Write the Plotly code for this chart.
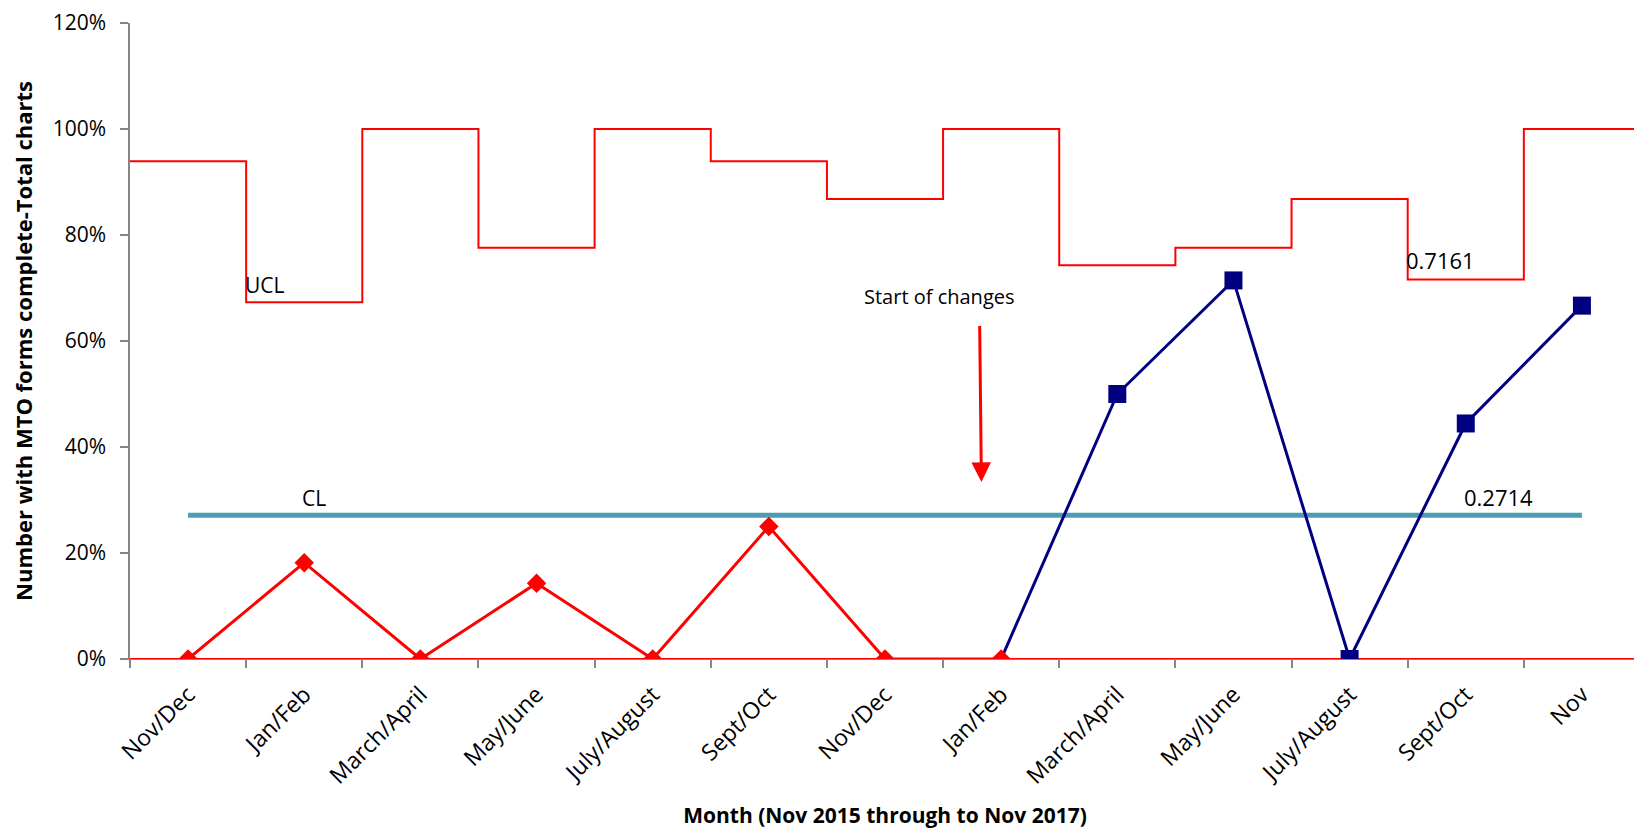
import plotly.graph_objects as go
import numpy as np

categories = ["Nov/Dec", "Jan/Feb", "March/April", "May/June", "July/August", "Sept/Oct",
              "Nov/Dec", "Jan/Feb", "March/April", "May/June", "July/August", "Sept/Oct", "Nov"]
before_idx = [0, 1, 2, 3, 4, 5, 6, 7]
before_vals = [0, 18.18, 0, 14.29, 0, 25.0, 0, 0]
after_idx = [7, 8, 9, 10, 11, 12]
after_vals = [0, 50.0, 71.43, 0, 44.44, 66.67]
ucl = [93.9, 67.3, 100, 77.6, 100, 93.9, 86.8, 100, 74.3, 77.6, 86.8, 71.61, 100]
lcl = [0] * 13
cl = 27.14
y_ticks = [0, 20, 40, 60, 80, 100, 120]

n = len(categories)
idx = np.arange(n)
edges = np.arange(n + 1) - 0.5

FONT = "Open Sans"
fig = go.Figure()

fig.add_trace(go.Scatter(x=edges, y=ucl + [ucl[-1]], mode="lines", line_shape="hv",
                         line=dict(color="#FF0000", width=2), hoverinfo="skip", showlegend=False))
fig.add_trace(go.Scatter(x=edges, y=lcl + [lcl[-1]], mode="lines", line_shape="hv",
                         line=dict(color="#FF0000", width=2), hoverinfo="skip", showlegend=False))
fig.add_trace(go.Scatter(x=idx, y=[cl] * n, mode="lines",
                         line=dict(color="#4A9DB5", width=5), showlegend=False))
fig.add_trace(go.Scatter(x=after_idx, y=after_vals, mode="lines+markers",
                         line=dict(color="#000080", width=3),
                         marker=dict(symbol="square", size=[0] + [18] * (len(after_idx) - 1),
                                     color="#000080", opacity=1, line=dict(width=0)),
                         showlegend=False))
fig.add_trace(go.Scatter(x=before_idx, y=before_vals, mode="lines+markers",
                         line=dict(color="#FF0000", width=3),
                         marker=dict(symbol="diamond", size=15, color="#FF0000",
                                     opacity=1, line=dict(width=0)),
                         showlegend=False))

txt = dict(family=FONT, size=21, color="#000000")
num = dict(family=FONT, size=22, color="#000000")
fig.add_annotation(x=0.66, y=70.6, text="UCL", showarrow=False, font=txt)
fig.add_annotation(x=1.08, y=30.4, text="CL", showarrow=False, font=txt)
fig.add_annotation(x=10.78, y=75.3, text="0.7161", showarrow=False, font=num)
fig.add_annotation(x=11.28, y=30.6, text="0.2714", showarrow=False, font=num)
fig.add_annotation(x=6.47, y=68.4, text="Start of changes", showarrow=False,
                   font=dict(family=FONT, size=20, color="#000000"))
fig.add_annotation(x=6.83, y=33.4, ax=6.815, ay=63.1, axref="x", ayref="y",
                   xref="x", yref="y", text="", showarrow=True,
                   arrowhead=2, arrowsize=1.3, arrowwidth=3, arrowcolor="#FF0000")

fig.update_layout(
    width=1634, height=824,
    margin=dict(l=122, r=2, t=15, b=173),
    paper_bgcolor="white", plot_bgcolor="white",
    font=dict(family=FONT, color="#000000"),
)
fig.update_xaxes(
    range=[-0.5, n - 0.5], tickmode="array", tickvals=idx, ticktext=categories,
    tickangle=-45, ticks="", tickfont=dict(family=FONT, size=23),
    ticklabelstandoff=12, automargin=False,
    showgrid=False, zeroline=False, showline=True, linecolor="#868686", linewidth=1,
    minor=dict(tick0=-0.5, dtick=1, ticks="outside", ticklen=8, tickcolor="#868686",
               tickwidth=1.5, showgrid=False),
    title=dict(text="<b>Month (Nov 2015 through to Nov 2017)</b>",
               font=dict(family=FONT, size=21), standoff=18),
)
fig.update_yaxes(
    range=[0, 120], tickmode="array", tickvals=y_ticks,
    ticktext=[f"{v}%" for v in y_ticks],
    ticks="outside", ticklen=8, tickcolor="#868686", tickwidth=1.5,
    tickfont=dict(family=FONT, size=21), ticklabelstandoff=10,
    ticklabeloverflow="allow", automargin=False,
    showgrid=False, zeroline=False, showline=True, linecolor="#868686", linewidth=1.5,
    title=dict(text="<b>Number with MTO forms complete-Total charts</b>",
               font=dict(family=FONT, size=22), standoff=18),
)

fig.write_html("out.html")
